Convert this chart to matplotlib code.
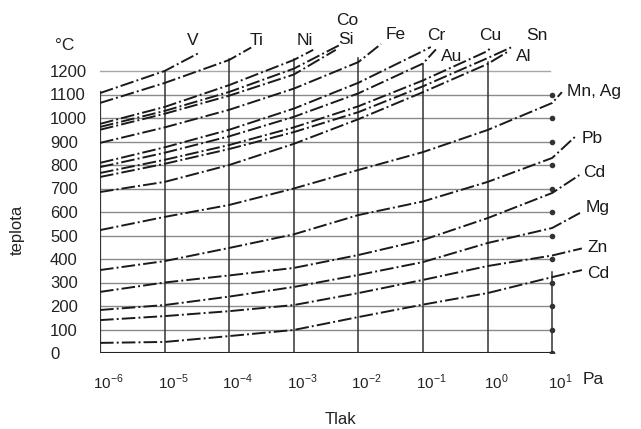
import numpy as np
import matplotlib.pyplot as plt
from matplotlib.transforms import ScaledTranslation

plt.rcParams['font.family'] = ['Liberation Sans', 'DejaVu Sans']
plt.rcParams['mathtext.fontset'] = 'custom'
plt.rcParams['mathtext.rm'] = 'Liberation Sans'

# --- data (log10 of pressure in Pa, temperature in deg C) ---
upper_names = ['V', 'Ti', 'Ni', 'Co', 'Si', 'Fe', 'Cr', 'Au', 'Cu', 'Sn', 'Al']
upper_logp = [
    [-6, -5, -4.46],
    [-6, -5, -4, -3.66],
    [-6, -5, -4, -3, -2.7],
    [-6, -5, -4, -3, -2.28],
    [-6, -5, -4, -3, -2.35],
    [-6, -5, -4, -3, -2, -1.65],
    [-6, -5, -4, -3, -2, -1, -0.88],
    [-6, -5, -4, -3, -2, -1, -0.8],
    [-6, -5, -4, -3, -2, -1, 0, 0.05],
    [-6, -5, -4, -3, -2, -1, 0, 0.4],
    [-6, -5, -4, -3, -2, -1, 0, 0.33],
]
upper_temp = [
    [1106, 1200, 1278],
    [1064, 1149, 1247, 1300],
    [975, 1047, 1140, 1247, 1290],
    [962, 1030, 1111, 1210, 1312],
    [950, 1018, 1095, 1185, 1290],
    [894, 960, 1035, 1125, 1238, 1315],
    [809, 875, 950, 1040, 1150, 1285, 1302],
    [791, 852, 922, 1005, 1105, 1232, 1292],
    [766, 822, 885, 960, 1050, 1160, 1285, 1300],
    [749, 805, 868, 940, 1025, 1135, 1255, 1305],
    [685, 728, 800, 890, 995, 1110, 1230, 1285],
]
upper_label_logp = [-4.56, -3.58, -2.83, -2.18, -2.19, -1.43, -0.80, -0.55, 0.04, 0.76, 0.56]
upper_label_temp = [1328, 1328, 1328, 1417, 1332, 1357, 1349, 1260, 1349, 1349, 1260]

lower_names = ['Mn, Ag', 'Pb', 'Cd', 'Mg', 'Zn', 'Cd']
lower_logp = [-6, -5, -4, -3, -2, -1, 0, 1]
lower_end_logp = [1.15, 1.35, 1.42, 1.43, 1.46, 1.46]
lower_temp = [
    [523, 579, 630, 700, 779, 855, 949, 1064, 1110],
    [353, 391, 447, 505, 587, 645, 728, 830, 919],
    [260, 300, 330, 362, 417, 481, 574, 681, 757],
    [183, 204, 240, 281, 332, 387, 468, 532, 596],
    [140, 157, 178, 204, 255, 311, 370, 415, 445],
    [43, 47, 72, 98, 153, 206, 255, 323, 353],
]
lower_label_logp = [1.23, 1.46, 1.48, 1.51, 1.54, 1.54]
lower_label_temp = [1111, 911, 770, 621, 451, 340]

temp_ticks = list(range(0, 1300, 100))
pressure_exp = [-6, -5, -4, -3, -2, -1, 0, 1]
vline_tops = [1110, 1200, 1250, 1250, 1255, 1230, 1240, 345]

# --- figure ---
W, H = 641, 429
fig = plt.figure(figsize=(W / 100, H / 100), dpi=100)
ax = fig.add_axes([100 / W, (H - 353) / H, 8 * 64.6 / W, 329 / H])
ax.set_xscale('log')
ax.set_xlim(1e-6, 1e2)
ax.set_ylim(0, 1400)
for s in ax.spines.values():
    s.set_visible(False)

# grid lines
for t in temp_ticks[1:-1]:
    ax.plot([1e-6, 1e1], [t, t], color='#8a8a8a', lw=1.0, zorder=1)
ax.plot([10 ** -6.08, 10 ** 0.97], [1200, 1200], color='#a8a8a8', lw=1.0, zorder=1)
ax.plot([1e-6, 1e1], [0, 0], color='#222222', lw=1.5, zorder=2)
ax.plot([1e1] * 12, temp_ticks[:-1], 'o', color='#333333', ms=3, zorder=3)
for e, top in zip(pressure_exp, vline_tops):
    ax.plot([10.0 ** e, 10.0 ** e], [0, top], color='#333333',
            lw=1.6 if e == -6 else 1.1, zorder=2)

dash = (0, (7, 1.6, 1, 1.6))
for lp, tt in zip(upper_logp, upper_temp):
    ax.plot(10.0 ** np.array(lp), tt, color='#1a1a1a', lw=1.4, ls=dash, zorder=4)
for tt, end in zip(lower_temp, lower_end_logp):
    lp = lower_logp + [end]
    ax.plot(10.0 ** np.array(lp), tt, color='#1a1a1a', lw=1.4, ls=dash, zorder=4)

for name, lp, t in zip(upper_names, upper_label_logp, upper_label_temp):
    ax.text(10 ** lp, t, name, fontsize=12.5, ha='center', va='center', color='#1a1a1a')
for name, lp, t in zip(lower_names, lower_label_logp, lower_label_temp):
    ax.text(10 ** lp, t, name, fontsize=12.5, ha='left', va='center', color='#1a1a1a')

# ticks
ax.set_yticks(temp_ticks)
ax.set_yticklabels([str(t) for t in temp_ticks], ha='left', fontsize=12, color='#222222')
ax.tick_params(axis='y', length=0, pad=36)
ax.set_xticks([10.0 ** e for e in pressure_exp])
ax.set_xticklabels(['10$^{%d}$' % e for e in pressure_exp], fontsize=11, color='#222222')
ax.xaxis.set_minor_locator(plt.NullLocator())
ax.tick_params(axis='x', length=0, pad=14)
off = ScaledTranslation(6 / 72, 0, fig.dpi_scale_trans)
for lab in ax.get_xticklabels():
    lab.set_transform(lab.get_transform() + off)

fig.text(593 / W, 1 - 379 / H, 'Pa', fontsize=12.5, ha='center', va='center', color='#222222')
fig.text(65 / W, 1 - 46 / H, '°C', fontsize=12.5, ha='center', va='center', color='#222222')
fig.text(17 / W, 1 - 230 / H, 'teplota', fontsize=12, rotation=90, ha='center', va='center', color='#222222')
fig.text(340 / W, 1 - 419 / H, 'Tlak', fontsize=12, ha='center', va='center', color='#222222')

plt.savefig('out.png', dpi=100)
